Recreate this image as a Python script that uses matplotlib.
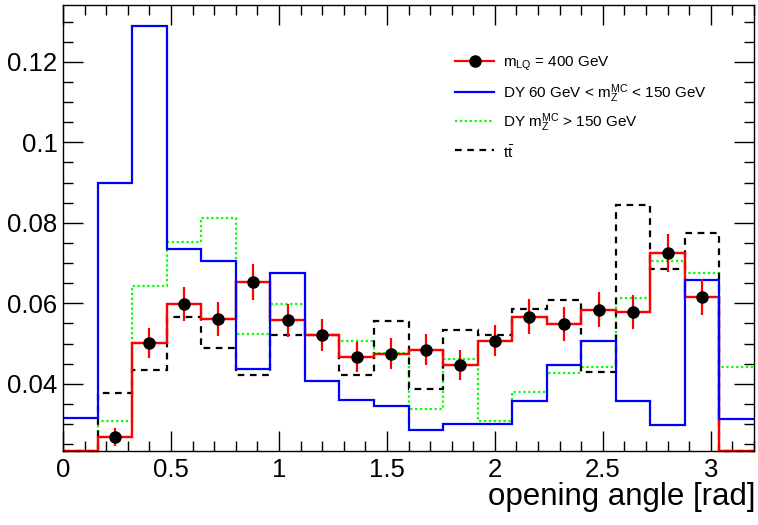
import numpy as np
import matplotlib
matplotlib.use('Agg')
import matplotlib.pyplot as plt
from matplotlib.ticker import MultipleLocator, FuncFormatter
from matplotlib.lines import Line2D

plt.rcParams['font.family'] = ['Liberation Sans', 'DejaVu Sans']
plt.rcParams['mathtext.fontset'] = 'custom'
plt.rcParams['mathtext.rm'] = 'Liberation Sans'
plt.rcParams['mathtext.it'] = 'Liberation Sans'
plt.rcParams['mathtext.default'] = 'regular'

# ---- data (20 bins of width 0.16 from 0 to 3.2) ----
bin_width = 0.16
n_bins = 20
lq400 = [0.0, 0.0267, 0.0501, 0.0599, 0.0561, 0.0653, 0.0558, 0.0522, 0.0466, 0.0475,
         0.0485, 0.0447, 0.0507, 0.0567, 0.0548, 0.0584, 0.0578, 0.0725, 0.0616, 0.0]
lq400_err = [0.0, 0.0022, 0.0038, 0.0042, 0.0042, 0.0044, 0.0041, 0.0040, 0.0037, 0.0038,
             0.0038, 0.0038, 0.0039, 0.0043, 0.0042, 0.0044, 0.0043, 0.0048, 0.0044, 0.0]
dy_60_150 = [0.0315, 0.0899, 0.1289, 0.0736, 0.0705, 0.0436, 0.0675, 0.0406, 0.0360, 0.0346,
             0.0285, 0.0301, 0.0301, 0.0356, 0.0447, 0.0506, 0.0356, 0.0298, 0.0658, 0.0313]
dy_150 = [0.0, 0.0307, 0.0644, 0.0751, 0.0813, 0.0523, 0.0599, 0.0522, 0.0507, 0.0477,
          0.0338, 0.0461, 0.0307, 0.0379, 0.0426, 0.0442, 0.0612, 0.0705, 0.0674, 0.0442]
ttbar = [0.0, 0.0377, 0.0433, 0.0566, 0.0489, 0.0422, 0.0522, 0.0522, 0.0422, 0.0556,
         0.0388, 0.0533, 0.0520, 0.0586, 0.0609, 0.0429, 0.0843, 0.0686, 0.0775, 0.0]

labels = [r'$m_{LQ}$ = 400 GeV',
          r'DY 60 GeV < $m_{Z}^{MC}$ < 150 GeV',
          r'DY $m_{Z}^{MC}$ > 150 GeV',
          r'$t\bar{t}$']
x_title = 'opening angle [rad]'

ylo, yhi = 0.0233, 0.1341
edges = np.arange(n_bins + 1) * bin_width
centers = 0.5 * (edges[:-1] + edges[1:])

W, H = 758, 525
fig = plt.figure(figsize=(W / 100, H / 100), dpi=100)
ax = fig.add_axes([63 / W, 1 - 451 / H, (754 - 63) / W, (451 - 5) / H])

lw = 1.6
def shown(v):
    return np.maximum(np.asarray(v, float), ylo)

ax.stairs(shown(lq400), edges, baseline=None, color='#ff0000', lw=lw, clip_on=False, zorder=2)
ax.stairs(shown(dy_60_150), edges, baseline=None, color='#0000ff', lw=lw, clip_on=False, zorder=2.1)
ax.stairs(shown(dy_150), edges, baseline=None, color='#00ff00', lw=lw, ls=(0, (1, 1.2)), clip_on=False, zorder=2)
ax.stairs(shown(ttbar), edges, baseline=None, color='black', lw=lw, ls=(0, (3, 2.5)), clip_on=False, zorder=2)
ax.stairs(shown(lq400), edges, baseline=None, color='#ff0000', lw=lw, clip_on=False, zorder=2.05)

v = np.asarray(lq400)
e = np.asarray(lq400_err)
m = v > 0
ax.errorbar(centers[m], v[m], yerr=e[m], fmt='o', color='black', ms=8,
            ecolor='#ff0000', elinewidth=lw, capsize=0, zorder=4)

ax.set_xlim(0, 3.2)
ax.set_ylim(ylo, yhi)
ax.xaxis.set_major_locator(MultipleLocator(0.5))
ax.xaxis.set_minor_locator(MultipleLocator(0.1))
ax.yaxis.set_major_locator(MultipleLocator(0.02))
ax.yaxis.set_minor_locator(MultipleLocator(0.005))
fmt = FuncFormatter(lambda x, p: '%g' % round(x, 4))
ax.xaxis.set_major_formatter(fmt)
ax.yaxis.set_major_formatter(fmt)
ax.tick_params(which='both', direction='in', top=True, right=True, width=1, labelsize=18.5)
ax.tick_params(which='major', length=14.5)
ax.tick_params(which='minor', length=7.5)
ax.tick_params(axis='x', pad=5)
ax.tick_params(axis='y', pad=4)
for s in ax.spines.values():
    s.set_linewidth(1)

fig.text(755 / W, 1 - 497 / H, x_title, ha='right', va='center', fontsize=22.5)

# legend drawn manually (ROOT style, no frame)
def fx(px):
    return px / W
def fy(py):
    return 1 - py / H

rows = [61, 92, 121, 150]
base = [67, 98, 127, 158]
styles = [dict(color='#ff0000', ls='-'),
          dict(color='#0000ff', ls='-'),
          dict(color='#00ff00', ls=(0, (1, 1.2))),
          dict(color='black', ls=(0, (3, 2.5)))]
for r, b, st, lab in zip(rows, base, styles, labels):
    fig.add_artist(Line2D([fx(455), fx(494)], [fy(r), fy(r)], lw=lw, **st))
    fig.text(fx(503), fy(b), lab, ha='left', va='baseline', fontsize=11)
fig.add_artist(Line2D([fx(474.5)], [fy(rows[0])], marker='o', ms=8, color='black', ls='none'))

fig.savefig('out.png', dpi=100)
